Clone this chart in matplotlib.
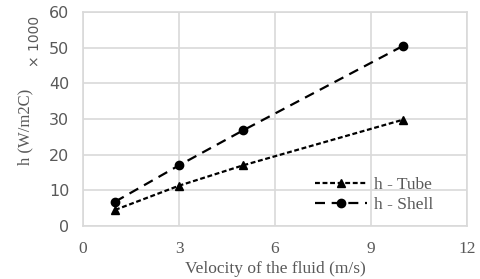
import matplotlib
matplotlib.use("Agg")
import matplotlib.pyplot as plt

velocity = [1, 3, 5, 10]
h_tube = [4.5, 11.3, 17.0, 29.8]
h_shell = [6.8, 17.0, 26.8, 50.5]
x_ticks = [0, 3, 6, 9, 12]
y_ticks = [0, 10, 20, 30, 40, 50, 60]

GRID = "#d9d9d9"
TEXT = "#595959"

fig = plt.figure(figsize=(4.8, 2.79), dpi=100)
ax = fig.add_axes([0.173, 0.19, 0.800, 0.767])

ax.plot(velocity, h_tube, color="black", linestyle=(0, (2.2, 1.2)), linewidth=1.6,
        marker="^", markersize=6, label="h - Tube")
ax.plot(velocity, h_shell, color="black", linestyle=(0, (4.5, 3)), linewidth=1.6,
        marker="o", markersize=6, label="h - Shell")

ax.set_xlim(0, 12)
ax.set_ylim(0, 60)
ax.set_xticks(x_ticks)
ax.set_yticks(y_ticks)
ax.grid(True, color=GRID, linewidth=1.2)
ax.set_axisbelow(True)
for s in ax.spines.values():
    s.set_color(GRID)
    s.set_linewidth(1.2)
ax.tick_params(axis="y", length=0, colors=TEXT, labelsize=11.5, pad=10)
ax.tick_params(axis="x", length=0, colors=TEXT, labelsize=12.5, pad=11)
for lbl in ax.get_yticklabels():
    lbl.set_fontfamily("DejaVu Sans")
for lbl in ax.get_xticklabels():
    lbl.set_fontfamily("Liberation Serif")

ax.set_xlabel("Velocity of the fluid (m/s)", fontfamily="Liberation Serif",
              fontsize=12.5, color=TEXT)
ax.xaxis.set_label_coords(0.5, -0.165)
ax.set_ylabel("h (W/m2C)", fontfamily="Liberation Serif", fontsize=12,
              color=TEXT)
ax.yaxis.set_label_coords(-0.13, 0.463)
fig.text(0.073, 0.85, "× 1000", rotation=90, fontsize=10, color=TEXT,
         fontfamily="DejaVu Sans", ha="center", va="center")

leg = ax.legend(loc="center right", bbox_to_anchor=(0.93, 0.145), borderaxespad=0,
                frameon=False, prop={"family": "Liberation Serif", "size": 12.5},
                handlelength=3.0, handletextpad=0.4, labelspacing=0.2)
for t in leg.get_texts():
    t.set_color(TEXT)

fig.savefig("out.png", dpi=100)
